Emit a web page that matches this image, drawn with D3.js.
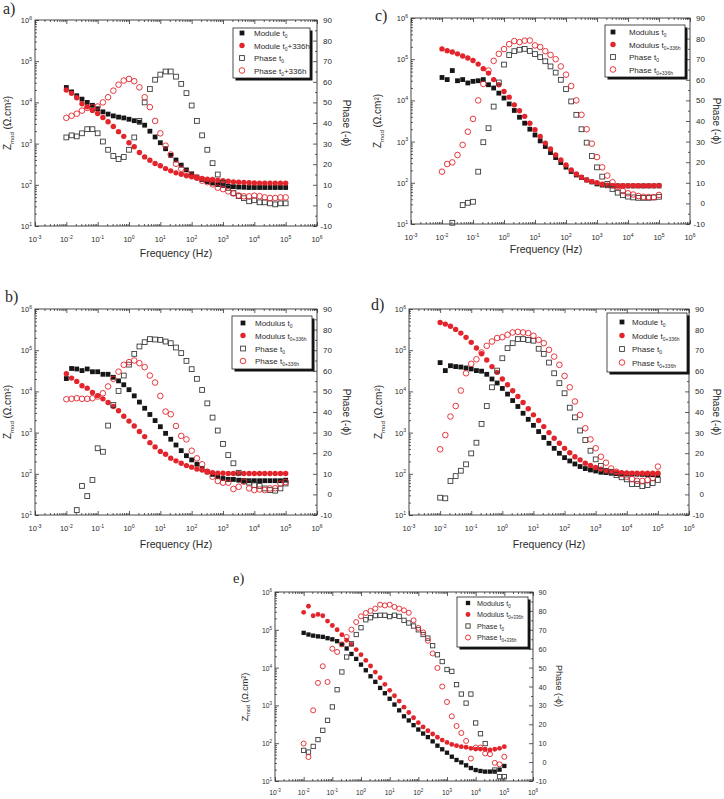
<!DOCTYPE html>
<html>
<head>
<meta charset="utf-8">
<script src="https://cdn.jsdelivr.net/npm/d3@7"></script>
<style>
body { margin: 0; background: #fff; }
svg { display: block; }
text { font-family: "Liberation Sans", Arial, sans-serif; fill: #2a2a2a; }
</style>
</head>
<body>
<div id="fig"></div>
<script>
// frequencies (Hz), 6 points per decade from 1e-2 to 1e5
var freq = [0.01, 0.0147, 0.0215, 0.0316, 0.0464, 0.0681,
  0.1, 0.147, 0.215, 0.316, 0.464, 0.681,
  1, 1.47, 2.15, 3.16, 4.64, 6.81,
  10, 14.7, 21.5, 31.6, 46.4, 68.1,
  100, 147, 215, 316, 464, 681,
  1000, 1470, 2150, 3160, 4640, 6810,
  10000, 14700, 21500, 31600, 46400, 68100, 100000];

// tick labels
var xTickExp = [-3, -2, -1, 0, 1, 2, 3, 4, 5, 6];
var yTickExp = [1, 2, 3, 4, 5, 6];
var phaseTicks = [-10, 0, 10, 20, 30, 40, 50, 60, 70, 80, 90];

// a)
var aModT0 = [2.3e4, 1.8e4, 1.45e4, 1.2e4, 1.0e4, 8.5e3, 7.0e3, 5.9e3, 5.2e3, 4.7e3, 4.4e3, 4.2e3, 3.9e3, 3.6e3, 3.3e3, 2.8e3, 2.0e3, 1.45e3, 1.05e3, 750, 520, 400, 300, 230, 185, 155, 135, 120, 110, 102, 97, 93, 90, 88, 87, 86, 86, 86, 86, 86, 86, 86, 86];
var aModT336 = [2.0e4, 1.66e4, 1.3e4, 9.3e3, 7.8e3, 6.4e3, 5.4e3, 4.3e3, 3.4e3, 2.6e3, 1.95e3, 1.5e3, 1.05e3, 840, 610, 475, 395, 330, 290, 247, 218, 195, 180, 166, 156, 148, 142, 136, 134, 129, 125, 122, 118, 116, 114, 112, 111, 110, 110, 110, 110, 110, 110];
var aPhT0 = [33, 34, 33.5, 35, 37, 37, 35, 31, 27, 24, 22.5, 23.5, 27, 33, 41, 50, 56.5, 61, 63.5, 65, 65, 62.5, 59, 54.5, 48.5, 41, 34, 27, 20.5, 15, 11, 8.5, 6, 4.5, 3.5, 2, 2.5, 1.5, 1.5, 1, 0.5, 1, 1];
var aPhT336 = [42.5, 43.5, 44.5, 46, 47.3, 47.7, 48, 50, 52.5, 55.7, 58.6, 60.6, 61.4, 60.3, 57.3, 52.5, 47.7, 41, 35, 29, 24.7, 20.2, 17.8, 16, 14.5, 13.4, 12, 11.3, 10.2, 8.6, 7.9, 6.8, 5.8, 4.8, 4.4, 4.4, 4.7, 4.5, 3.9, 3.6, 3.6, 3.9, 3.9];

// b)
var bModT0 = [2.05e4, 3.6e4, 3.5e4, 3.2e4, 3.5e4, 3.0e4, 3.0e4, 2.6e4, 2.6e4, 2.2e4, 1.8e4, 1.45e4, 1.1e4, 7.8e3, 5.5e3, 3.9e3, 2.75e3, 1.96e3, 1.39e3, 960, 690, 500, 365, 275, 218, 171, 135, 112, 97, 85, 77, 73, 73, 70, 68, 68, 68, 68, 68, 68, 68, 68, 70];
var bModT336 = [2.7e4, 2.1e4, 1.75e4, 1.37e4, 1.2e4, 9.4e3, 7.9e3, 6.6e3, 5.4e3, 4.3e3, 3.4e3, 2.5e3, 1.9e3, 1.45e3, 1.06e3, 800, 570, 450, 350, 297, 240, 206, 180, 158, 145, 130, 124, 113, 107, 104, 103, 102, 102, 102, 102, 102, 102, 102, 102, 102, 102, 102, 102];
var bPhT0 = [null, null, -7.6, 4.1, -0.8, 7, 22.4, 20.7, 33.4, 43.4, 50.2, 57.7, 63, 68.2, 71.8, 73.9, 75.4, 75.2, 75, 74.2, 73.4, 71.3, 68.6, 64.8, 60.8, 56.1, 50.7, 44.2, 37.3, 31, 24.5, 19.1, 15.1, 10.5, 6.5, 5.7, 4.5, 4.1, 2.9, 2.1, 1.8, 2.9, 5.3];
var bPhT336 = [46.2, 46.4, 46.7, 46.4, 46.4, 46.7, 47.5, 49.1, 52.4, 56.1, 59.6, 62.9, 64.2, 65, 63.7, 61.8, 57.7, 54.3, 47.8, 40.2, 38.9, 33.2, 28.4, 26.7, 21.2, 17.5, 14.6, 11, 8.6, 6.5, 5.7, 5.7, 2.6, 3.7, 6.2, 2.9, 2.1, 2.4, 2.1, 2.9, 3, 5.3, 6];

// c)
var cModT0 = [3.6e4, 3.2e4, 5.3e4, 3.0e4, 3.2e4, 2.65e4, 2.9e4, 3.0e4, 3.2e4, 2.4e4, 2.0e4, 1.5e4, 1.14e4, 8.2e3, 5.7e3, 3.9e3, 2.8e3, 2.0e3, 1.45e3, 1.04e3, 760, 540, 410, 310, 240, 188, 155, 134, 117, 105, 94, 88, 85, 84, 84, 84, 84, 84, 84, 84, 84, 84, 84];
var cModT336 = [1.78e5, 1.6e5, 1.5e5, 1.35e5, 1.2e5, 1.07e5, 9.3e4, 7.6e4, 5.9e4, 4.6e4, 3.2e4, 2.4e4, 1.65e4, 1.2e4, 7.8e3, 5.6e3, 4.1e3, 2.8e3, 1.95e3, 1.33e3, 920, 660, 475, 360, 270, 205, 164, 136, 117, 107, 100, 92, 87, 85, 85, 85, 85, 85, 85, 85, 85, 85, 86];
var cPhT0 = [null, null, -9.4, null, -0.8, 0.3, 0.8, 15.4, 29.7, 36.5, 47, 58.7, 67.4, 72, 73.9, 74.6, 75, 74, 72.5, 71, 69, 66.5, 63.5, 60, 55.5, 49.5, 43, 36, 29.5, 23, 17.5, 13, 9.5, 7, 5.2, 4, 3.3, 2.9, 2.7, 2.7, 2.7, 2.9, 3.2];
var cPhT336 = [15.4, 19.1, 19.9, 23.5, 28.4, 34.8, 41, 50, 58, 64.5, 69.2, 72.6, 74.9, 77.3, 78.8, 78.3, 79, 79.1, 76.7, 75.9, 73.9, 72.1, 70, 66.5, 62.5, 57, 50, 43, 36, 29, 22.5, 17.5, 13.5, 10.3, 8, 6, 4.9, 4.3, 3.6, 3.2, 3.1, 3, 4.1];

// d)
var dModT0 = [5e4, 3.2e4, 4.2e4, 4.0e4, 3.9e4, 3.7e4, 3.5e4, 3.2e4, 3.1e4, 2.6e4, 2.0e4, 1.6e4, 1.18e4, 8.6e3, 6.0e3, 4.3e3, 2.95e3, 2.1e3, 1.5e3, 1.06e3, 760, 550, 415, 315, 247, 205, 173, 150, 134, 124, 117, 109, 107, 103, 101, 100, 100, 99, 98, 97, 96, 95, 95];
var dModT336 = [4.7e5, 4.3e5, 3.8e5, 3.2e5, 2.6e5, 2.05e5, 1.55e5, 1.13e5, 8.2e4, 5.8e4, 4.0e4, 2.9e4, 2.0e4, 1.45e4, 1.04e4, 7.5e3, 5.4e3, 3.8e3, 2.7e3, 1.97e3, 1.4e3, 1.0e3, 730, 550, 415, 325, 260, 218, 180, 160, 142, 130, 120, 113, 109, 107, 105, 104, 103, 103, 103, 103, 103];
var dPhT0 = [-1.6, -1.9, 6.5, 8.9, 11.5, 14.6, 19.9, 25.1, 34.2, 42.9, 52, 60.1, 66.1, 71, 73.4, 75.4, 75.4, 75, 74.6, 70.7, 68.2, 64, 58.8, 54, 49.1, 42.1, 37.4, 31, 26.4, 21.2, 17, 13.8, 11.3, 11, 9.4, 8.3, 7.3, 5, 5, 4, 4.5, 5.5, 7];
var dPhT336 = [21.9, 28.8, 37.8, 42.9, 50.4, 58.8, 63.4, 65.6, 68.9, 72.1, 74.2, 75.9, 76.3, 77.5, 78.6, 78.9, 78.6, 78.3, 77, 75, 73.4, 70.2, 66.9, 62.9, 57.5, 52, 45.1, 38.6, 32.1, 26.7, 22.4, 18.3, 15.4, 12.6, 11, 9.9, 8.6, 7.5, 6.6, 6.6, 7, 8, 13.5];

// e)
var eModT0 = [8.3e4, 7.5e4, 7.0e4, 6.7e4, 6.5e4, 6.0e4, 5.6e4, 5.0e4, 4.1e4, 3.2e4, 2.3e4, 1.7e4, 1.2e4, 8.5e3, 5.9e3, 4.2e3, 2.9e3, 2.1e3, 1.5e3, 1.05e3, 740, 515, 400, 300, 230, 180, 145, 112, 86, 69, 56, 44, 36, 31, 26, 22, 19.5, 18.4, 17.7, 17.7, 17.7, 20, 25];
var eModT336 = [2.9e5, 4.2e5, 2.35e5, 2.55e5, 2.35e5, 1.7e5, 1.3e5, 1.0e5, 7.4e4, 5.3e4, 4.1e4, 3.0e4, 2.2e4, 1.55e4, 1.1e4, 7.6e3, 5.4e3, 3.6e3, 2.5e3, 1.8e3, 1.3e3, 900, 650, 470, 350, 270, 214, 175, 144, 121, 105, 93, 86, 81, 78, 73, 70, 70, 69, 66, 69, 73, 81];
var ePhT0 = [6.2, 5.3, 8.3, 11.9, 16.8, 22.1, 29.2, 38.3, 47.7, 55.6, 62.6, 67.5, 71.1, 75.3, 76.4, 77.5, 77.7, 77.7, 77, 77.7, 77.1, 75, 73.6, 72, 70, 67.5, 65.6, 61.6, 56.8, 53.2, 49, 48, 41, 36, 31.2, 36, 20.7, 15, 9.8, null, -4.2, -7.7, -7.7];
var ePhT336 = [9.8, 2.7, 27.4, 41.9, 50.7, 42.4, 60, 58.3, 62.3, 66.2, 70.1, 74.1, 77.1, 78.9, 80, 81.2, 83.3, 82.9, 83.3, 82.1, 81.2, 80.3, 79, 75, 71, 68.6, 64.2, 57.5, 49.8, 40, 31.8, 24.2, 19.1, 15.4, 11.2, 1.9, 7.7, 7.7, 4.6, 4.2, -0.4, -1.2, 2.8];

// legend texts: [before sub, sub, after sub]
var legModule = [["Module t", "0", ""], ["Module t", "0", "+336h"], ["Phase t", "0", ""], ["Phase t", "0", "+336h"]];
var legModulus = [["Modulus t", "0", ""], ["Modulus t", "0+336h", ""], ["Phase t", "0", ""], ["Phase t", "0+336h", ""]];
var legModuleB = [["Module t", "0", ""], ["Module t", "0+336h", ""], ["Phase t", "0", ""], ["Phase t", "0+336h", ""]];

var RED = "#e3242b", BLK = "#161616", GRY = "#3c3c3c", AX = "#333";

var panels = [
  {letter: "a)", lx: 3, ly: 14, x0: 35, x1: 317, y0: 20, y1: 226, s: 1,
   mod: [aModT0, aModT336], ph: [aPhT0, aPhT336], leg: legModule,
   box: [233, 28, 310, 78], symX: 242, txtX: 254, rows: [33, 45.5, 58, 70.5],
   lt: [11, 123], rt: [343, 123], ft: [176, 257]},
  {letter: "c)", lx: 375, ly: 21, x0: 411, x1: 690, y0: 18, y1: 224, s: 1,
   mod: [cModT0, cModT336], ph: [cPhT0, cPhT336], leg: legModulus,
   box: [605, 25, 685, 77], symX: 613, txtX: 629, rows: [32, 44.5, 57, 69.5],
   lt: [381, 121], rt: [713, 121], ft: [546, 253]},
  {letter: "b)", lx: 5, ly: 302, x0: 35, x1: 317, y0: 309, y1: 515, s: 1,
   mod: [bModT0, bModT336], ph: [bPhT0, bPhT336], leg: legModulus,
   box: [232, 316, 312, 369], symX: 243, txtX: 255, rows: [323, 335.5, 348.5, 361],
   lt: [11, 412], rt: [343, 412], ft: [176, 548]},
  {letter: "d)", lx: 371, ly: 310, x0: 409, x1: 689, y0: 309, y1: 515, s: 1,
   mod: [dModT0, dModT336], ph: [dPhT0, dPhT336], leg: legModuleB,
   box: [607, 313, 687, 372], symX: 622, txtX: 632, rows: [322, 335.5, 349, 362.5],
   lt: [382, 412], rt: [713, 412], ft: [549, 548]},
  {letter: "e)", lx: 233, ly: 583, x0: 275, x1: 533, y0: 592, y1: 781, s: 0.9,
   mod: [eModT0, eModT336], ph: [ePhT0, ePhT336], leg: legModulus,
   box: [457, 597, 528, 647], symX: 468, txtX: 477, rows: [603, 614.5, 626, 637.5],
   lt: [248, 697], rt: [556, 686], ft: null}
];

var svg = d3.select("#fig").append("svg").attr("width", 724).attr("height", 799);

function powText(sel, e, fs) {
  sel.append("tspan").text("10");
  sel.append("tspan").attr("dy", -fs * 0.45).attr("font-size", fs * 0.68).text(e);
}

function symbol(g, kind, cx, cy, s) {
  var h = 2.4 * s;
  if (kind == 0) {
    g.append("rect").attr("x", cx - h).attr("y", cy - h).attr("width", 2 * h).attr("height", 2 * h).attr("fill", BLK);
  } else if (kind == 1) {
    g.append("circle").attr("cx", cx).attr("cy", cy).attr("r", 2.7 * s).attr("fill", RED);
  } else if (kind == 2) {
    g.append("rect").attr("x", cx - h).attr("y", cy - h).attr("width", 2 * h).attr("height", 2 * h)
      .attr("fill", "none").attr("stroke", GRY).attr("stroke-width", 0.9);
  } else {
    g.append("circle").attr("cx", cx).attr("cy", cy).attr("r", 2.8 * s)
      .attr("fill", "none").attr("stroke", RED).attr("stroke-width", 0.9);
  }
}

function drawPanel(p) {
  var g = svg.append("g");
  var s = p.s;
  var x = d3.scaleLog().domain([1e-3, 1e6]).range([p.x0, p.x1]);
  var yL = d3.scaleLog().domain([10, 1e6]).range([p.y1, p.y0]);
  var yR = d3.scaleLinear().domain([-10, 90]).range([p.y1, p.y0]);

  var xMaj = xTickExp.map(function(e) { return Math.pow(10, e); });
  var xMin = [];
  for (var k = -3; k < 6; k++) for (var m = 2; m < 10; m++) xMin.push(m * Math.pow(10, k));
  var yMaj = yTickExp.map(function(e) { return Math.pow(10, e); });
  var yMin = [];
  for (var k2 = 1; k2 < 6; k2++) for (var m2 = 2; m2 < 10; m2++) yMin.push(m2 * Math.pow(10, k2));
  var phMin = phaseTicks.slice(1).map(function(v) { return v - 5; });

  function ticks(axis, tr) {
    g.append("g").attr("transform", tr)
      .call(axis.tickSizeOuter(0).tickFormat(""))
      .call(function(a) {
        a.select(".domain").remove();
        a.selectAll("text").remove();
        a.selectAll("line").attr("stroke", AX).attr("stroke-width", 0.8);
      });
  }
  ticks(d3.axisBottom(x).tickValues(xMaj).tickSizeInner(-4), "translate(0," + p.y1 + ")");
  ticks(d3.axisBottom(x).tickValues(xMin).tickSizeInner(-2), "translate(0," + p.y1 + ")");
  ticks(d3.axisTop(x).tickValues(xMaj).tickSizeInner(-4), "translate(0," + p.y0 + ")");
  ticks(d3.axisTop(x).tickValues(xMin).tickSizeInner(-2), "translate(0," + p.y0 + ")");
  ticks(d3.axisLeft(yL).tickValues(yMaj).tickSizeInner(-4), "translate(" + p.x0 + ",0)");
  ticks(d3.axisLeft(yL).tickValues(yMin).tickSizeInner(-2), "translate(" + p.x0 + ",0)");
  ticks(d3.axisRight(yR).tickValues(phaseTicks).tickSizeInner(-4), "translate(" + p.x1 + ",0)");
  ticks(d3.axisRight(yR).tickValues(phMin).tickSizeInner(-2), "translate(" + p.x1 + ",0)");

  g.append("rect").attr("x", p.x0).attr("y", p.y0)
    .attr("width", p.x1 - p.x0).attr("height", p.y1 - p.y0)
    .attr("fill", "none").attr("stroke", AX).attr("stroke-width", 0.9);

  var fs = 7.5 * s;
  xTickExp.forEach(function(e) {
    var t = g.append("text").attr("x", x(Math.pow(10, e))).attr("y", p.y1 + 16 * s)
      .attr("text-anchor", "middle").attr("font-size", fs);
    powText(t, e, fs);
  });
  yTickExp.forEach(function(e) {
    var t = g.append("text").attr("x", p.x0 - 3).attr("y", yL(Math.pow(10, e)) + 3)
      .attr("text-anchor", "end").attr("font-size", fs);
    powText(t, e, fs);
  });
  phaseTicks.forEach(function(v) {
    g.append("text").attr("x", p.x1 + 15 * s).attr("y", yR(v) + 3)
      .attr("text-anchor", "end").attr("font-size", 8 * s).text(v);
  });

  // axis titles
  var lt = g.append("text").attr("transform", "translate(" + p.lt[0] + "," + p.lt[1] + ") rotate(-90)")
    .attr("text-anchor", "middle").attr("font-size", 10 * s);
  lt.append("tspan").text("Z");
  lt.append("tspan").attr("dy", 2.5 * s).attr("font-size", 6 * s).text("mod");
  lt.append("tspan").attr("dy", -2.5 * s).text(" (\u03A9.cm\u00B2)");
  g.append("text").attr("transform", "translate(" + p.rt[0] + "," + p.rt[1] + ") rotate(90)")
    .attr("text-anchor", "middle").attr("font-size", 10 * s).text("Phase (-\u03D5)");
  if (p.ft) {
    g.append("text").attr("x", p.ft[0]).attr("y", p.ft[1]).attr("text-anchor", "middle")
      .attr("font-size", 10.5).text("Frequency (Hz)");
  }
  g.append("text").attr("x", p.lx).attr("y", p.ly)
    .style("font-family", "'Liberation Serif', 'DejaVu Serif', serif")
    .attr("font-size", 16 * s).text(p.letter);

  // data marks
  var sets = [[p.mod[0], yL, 0], [p.mod[1], yL, 1], [p.ph[0], yR, 2], [p.ph[1], yR, 3]];
  sets.forEach(function(st) {
    var pts = freq.map(function(f, i) { return {f: f, v: st[0][i]}; })
      .filter(function(d) { return d.v != null; });
    var mg = g.append("g");
    pts.forEach(function(d) { symbol(mg, st[2], x(d.f), st[1](d.v), s); });
  });

  // legend
  var b = p.box;
  g.append("rect").attr("x", b[0] + 2.5).attr("y", b[1] + 2.5)
    .attr("width", b[2] - b[0]).attr("height", b[3] - b[1]).attr("fill", "#111");
  g.append("rect").attr("x", b[0]).attr("y", b[1])
    .attr("width", b[2] - b[0]).attr("height", b[3] - b[1])
    .attr("fill", "#fff").attr("stroke", "#222").attr("stroke-width", 0.8);
  p.leg.forEach(function(l, i) {
    symbol(g, i, p.symX, p.rows[i], s);
    var t = g.append("text").attr("x", p.txtX).attr("y", p.rows[i] + 3 * s).attr("font-size", 8 * s);
    t.append("tspan").text(l[0]);
    t.append("tspan").attr("dy", 2 * s).attr("font-size", 5 * s).text(l[1]);
    if (l[2]) t.append("tspan").attr("dy", -2 * s).text(l[2]);
  });
}

panels.forEach(drawPanel);
</script>
</body>
</html>
